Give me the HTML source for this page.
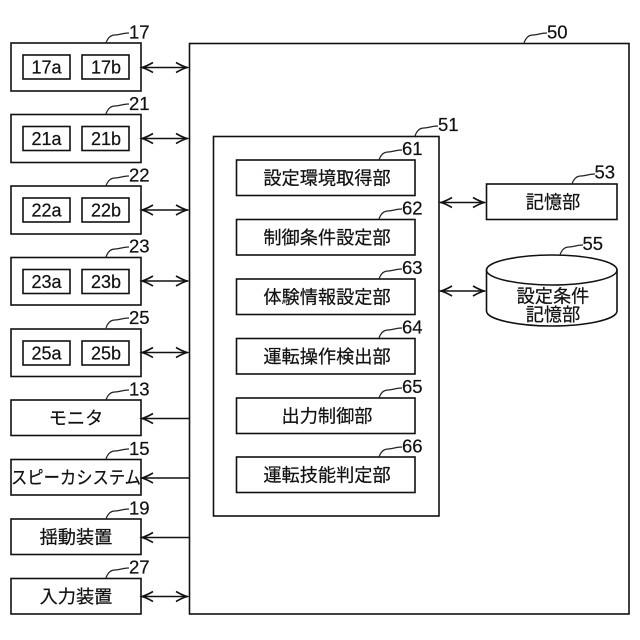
<!DOCTYPE html>
<html lang="ja"><head><meta charset="utf-8"><style>
html,body{margin:0;padding:0;background:#fff;width:640px;height:640px;overflow:hidden}
svg{display:block}
text{font-family:"Liberation Sans","Noto Sans CJK JP",sans-serif;fill:#111;stroke:#111;stroke-width:.2}
.b{fill:#fff;stroke:#111;stroke-width:1.6}
.l{fill:none;stroke:#111;stroke-width:1.5}
.t{fill:none;stroke:#222;stroke-width:1.2}
.a{fill:none;stroke:#111;stroke-width:1.6}
.n{font-size:18.5px}
.s{font-size:18px;text-anchor:middle}
.j{font-size:18.2px;text-anchor:middle}
</style></head><body>
<svg width="640" height="640" viewBox="0 0 640 640" xmlns="http://www.w3.org/2000/svg">
<defs>
<path id="ar" class="a" d="M12 -5 Q6 -1.5 1 0 Q6 1.5 12 5"/>
<path id="ld" class="t" d="M0 0 C2 -6 5 -8 9 -8 C14 -8 16 -10 23 -10"/>
</defs>
<rect class="b" x="189.5" y="43.5" width="439.5" height="570.5"/>
<rect class="b" x="213.5" y="136.5" width="225.5" height="379.5"/>

<!-- left groups -->
<g>
<rect class="b" x="11" y="43" width="130" height="48"/><rect class="b" x="23" y="55" width="47" height="24"/><rect class="b" x="82" y="55" width="47" height="24"/>
<text class="s" x="46.5" y="73.5">17a</text><text class="s" x="106" y="73.5">17b</text>
<rect class="b" x="11" y="114.5" width="130" height="48"/><rect class="b" x="23" y="126.5" width="47" height="24"/><rect class="b" x="82" y="126.5" width="47" height="24"/>
<text class="s" x="46.5" y="145">21a</text><text class="s" x="106" y="145">21b</text>
<rect class="b" x="11" y="186" width="130" height="48"/><rect class="b" x="23" y="198" width="47" height="24"/><rect class="b" x="82" y="198" width="47" height="24"/>
<text class="s" x="46.5" y="216.5">22a</text><text class="s" x="106" y="216.5">22b</text>
<rect class="b" x="11" y="257.5" width="130" height="47.5"/><rect class="b" x="23" y="269.5" width="47" height="24"/><rect class="b" x="82" y="269.5" width="47" height="24"/>
<text class="s" x="46.5" y="288">23a</text><text class="s" x="106" y="288">23b</text>
<rect class="b" x="11" y="329" width="130" height="47.5"/><rect class="b" x="23" y="341" width="47" height="24"/><rect class="b" x="82" y="341" width="47" height="24"/>
<text class="s" x="46.5" y="359.5">25a</text><text class="s" x="106" y="359.5">25b</text>

<rect class="b" x="11" y="400" width="130" height="35.5"/>
<text class="j" x="76" y="424.5">モニタ</text>
<rect class="b" x="11" y="459.5" width="130" height="35.5"/>
<text class="j" x="76" y="484" textLength="130" lengthAdjust="spacingAndGlyphs">スピーカシステム</text>
<rect class="b" x="11" y="519" width="130" height="35.5"/>
<text class="j" x="76" y="543.5">揺動装置</text>
<rect class="b" x="11" y="578.5" width="130" height="35.5"/>
<text class="j" x="76" y="603">入力装置</text>
</g>

<!-- inner blocks -->
<g>
<rect class="b" x="236.5" y="160" width="178.5" height="35.5"/><text class="j" x="327" y="184.5">設定環境取得部</text>
<rect class="b" x="236.5" y="219.5" width="178.5" height="35.5"/><text class="j" x="327" y="244">制御条件設定部</text>
<rect class="b" x="236.5" y="279" width="178.5" height="35.5"/><text class="j" x="327" y="303.5">体験情報設定部</text>
<rect class="b" x="236.5" y="338.5" width="178.5" height="35.5"/><text class="j" x="327" y="363">運転操作検出部</text>
<rect class="b" x="236.5" y="398" width="178.5" height="35.5"/><text class="j" x="327" y="422.5">出力制御部</text>
<rect class="b" x="236.5" y="457" width="178.5" height="35.5"/><text class="j" x="327" y="481.5">運転技能判定部</text>
</g>

<!-- storage -->
<rect class="b" x="486.5" y="184" width="130.5" height="35.5"/>
<text class="j" x="553" y="208.5">記憶部</text>
<path class="b" d="M486.5 270 C486.5 261 520 255 552 255 C584 255 617 261 617 270 L617 311 C617 320 584 326 552 326 C520 326 486.5 320 486.5 311 Z"/>
<path class="l" d="M486.5 270 C486.5 279 520 285 552 285 C584 285 617 279 617 270"/>
<text class="j" x="553" y="302.5">設定条件</text>
<text class="j" x="553" y="321">記憶部</text>

<!-- arrows -->
<g>
<path class="l" d="M142 67.5H188M142 138.5H188M142 210H188M142 281H188M142 352.5H188"/>
<path class="l" d="M142 418.5H189M142 478H189M142 537.5H189M142 596.5H188"/>
<path class="l" d="M440 202.5H485M440 291H485"/>
<use href="#ar" x="141" y="67.5"/><use href="#ar" transform="translate(188 67.5) scale(-1 1)"/>
<use href="#ar" x="141" y="138.5"/><use href="#ar" transform="translate(188 138.5) scale(-1 1)"/>
<use href="#ar" x="141" y="210"/><use href="#ar" transform="translate(188 210) scale(-1 1)"/>
<use href="#ar" x="141" y="281"/><use href="#ar" transform="translate(188 281) scale(-1 1)"/>
<use href="#ar" x="141" y="352.5"/><use href="#ar" transform="translate(188 352.5) scale(-1 1)"/>
<use href="#ar" x="141" y="418.5"/>
<use href="#ar" x="141" y="478"/>
<use href="#ar" x="141" y="537.5"/>
<use href="#ar" x="141" y="596.5"/><use href="#ar" transform="translate(188 596.5) scale(-1 1)"/>
<use href="#ar" x="440" y="202.5"/><use href="#ar" transform="translate(485 202.5) scale(-1 1)"/>
<use href="#ar" x="440" y="291"/><use href="#ar" transform="translate(485 291) scale(-1 1)"/>
</g>

<!-- reference leaders -->
<use href="#ld" x="106" y="43"/><text class="n" x="129" y="38.5">17</text>
<use href="#ld" x="106" y="114"/><text class="n" x="129" y="110">21</text>
<use href="#ld" x="106" y="186"/><text class="n" x="129" y="181.5">22</text>
<use href="#ld" x="106" y="257"/><text class="n" x="129" y="252.5">23</text>
<use href="#ld" x="106" y="328"/><text class="n" x="129" y="324">25</text>
<use href="#ld" x="106" y="400"/><text class="n" x="129" y="395.5">13</text>
<use href="#ld" x="106" y="459"/><text class="n" x="129" y="455">15</text>
<use href="#ld" x="106" y="519"/><text class="n" x="129" y="514.5">19</text>
<use href="#ld" x="106" y="578"/><text class="n" x="129" y="573.5">27</text>
<use href="#ld" x="524" y="43"/><text class="n" x="547" y="38.5">50</text>
<use href="#ld" x="415" y="136"/><text class="n" x="438" y="131">51</text>
<use href="#ld" x="379" y="160"/><text class="n" x="402" y="155">61</text>
<use href="#ld" x="379" y="219"/><text class="n" x="402" y="214.5">62</text>
<use href="#ld" x="379" y="279"/><text class="n" x="402" y="274">63</text>
<use href="#ld" x="379" y="338"/><text class="n" x="402" y="333.5">64</text>
<use href="#ld" x="379" y="398"/><text class="n" x="402" y="393">65</text>
<use href="#ld" x="379" y="457"/><text class="n" x="402" y="452.5">66</text>
<use href="#ld" x="572" y="184"/><text class="n" x="594.5" y="178.5">53</text>
<use href="#ld" x="560" y="255"/><text class="n" x="582.5" y="250">55</text>
</svg>
</body></html>
